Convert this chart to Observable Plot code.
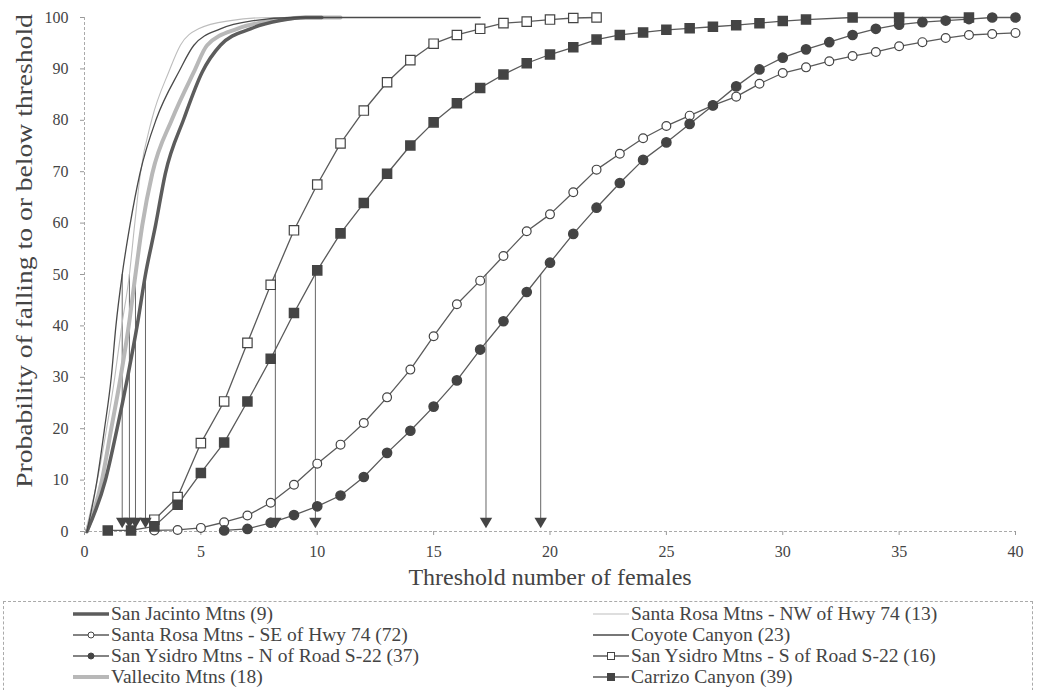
<!DOCTYPE html>
<html><head><meta charset="utf-8">
<script src="https://cdn.jsdelivr.net/npm/d3@7"></script>
<script src="https://cdn.jsdelivr.net/npm/@observablehq/plot@0.6"></script>
<style>
html,body{margin:0;padding:0;background:#fff;overflow:hidden;}
#wrap{position:relative;width:1041px;height:690px;font-family:"Liberation Serif","Times New Roman",serif;color:#444;}
#chart{position:absolute;left:0;top:0;}
#chart svg, #chart svg text{font-family:"Liberation Serif","Times New Roman",serif;}
#ylab{position:absolute;width:500px;height:30px;line-height:30px;text-align:center;font-size:23px;left:-225px;top:236px;transform:rotate(-90deg) scaleX(1.2);transform-origin:center;white-space:nowrap;}
#xlab{position:absolute;left:250px;width:600px;top:563px;text-align:center;font-size:24px;line-height:28px;white-space:nowrap;}
#legend{position:absolute;left:3px;top:601px;width:1030px;height:100px;border:1px dashed #aaa;box-sizing:border-box;}
.item{position:absolute;height:21px;line-height:20px;font-size:19.5px;white-space:nowrap;display:flex;align-items:center;}
.item svg{margin-right:2px;}
.item span{display:inline-block;height:20px;line-height:20px;}
</style></head><body>
<div id="wrap"><div id="chart"></div><div id="ylab"></div><div id="xlab"></div><div id="legend"></div></div>
<script>
// ---- data ----
const xTicks = [0, 5, 10, 15, 20, 25, 30, 35, 40];
const yTicks = [0, 10, 20, 30, 40, 50, 60, 70, 80, 90, 100];
const xTitle = "Threshold number of females";
const yTitle = "Probability of falling to or below threshold";

const seriesNames = [
  "San Jacinto Mtns (9)",
  "Santa Rosa Mtns - NW of Hwy 74 (13)",
  "Santa Rosa Mtns - SE of Hwy 74 (72)",
  "Coyote Canyon (23)",
  "San Ysidro Mtns - N of Road S-22 (37)",
  "San Ysidro Mtns - S of Road S-22 (16)",
  "Vallecito Mtns (18)",
  "Carrizo Canyon (39)"
];

// steep curves (no markers)
const steepY = [0, 10, 20, 30, 40, 50, 59.5, 69.6, 80.3, 89.4, 94.6, 97.8, 99.4, 100, 100];
const sanJacintoX = [0.1, 0.9, 1.4, 1.85, 2.26, 2.62, 3.05, 3.47, 4.27, 5.06, 5.84, 7.13, 8.4, 9.5, 10.2];
const santaRosaNWX = [0.05, 0.55, 0.95, 1.3, 1.6, 1.93, 2.15, 2.4, 2.9, 3.62, 4.12, 4.9, 6.27, 8, 12];
const coyoteX = [0.1, 0.54, 0.86, 1.15, 1.35, 1.62, 1.95, 2.38, 3.09, 4.05, 4.7, 5.84, 7.27, 9, 17];
const vallecitoX = [0.1, 0.75, 1.15, 1.55, 1.9, 2.19, 2.48, 2.91, 3.77, 4.7, 5.27, 6.56, 8.1, 9.5, 11];

// marker series
const santaRosaSEX = [3,4,5,6,7,8,9,10,11,12,13,14,15,16,17,18,19,20,21,22,23,24,25,26,27,28,29,30,31,32,33,34,35,36,37,38,39,40];
const santaRosaSEY = [0.2,0.3,0.7,1.8,3.1,5.6,9.1,13.2,16.9,21.1,26.1,31.5,38,44.2,48.8,53.6,58.4,61.7,66.0,70.4,73.5,76.5,78.9,80.9,82.9,84.6,87.1,89.2,90.3,91.5,92.5,93.3,94.4,95.2,96.0,96.6,96.8,97.0];

const ysidroNX = [6,7,8,9,10,11,12,13,14,15,16,17,18,19,20,21,22,23,24,25,26,27,28,29,30,31,32,33,34,35,36,37,38,39,40];
const ysidroNY = [0.2,0.5,1.7,3.2,4.9,7.0,10.6,15.3,19.6,24.3,29.4,35.4,40.9,46.6,52.3,57.9,63.0,67.8,72.3,75.7,79.3,82.9,86.6,89.9,92.2,93.8,95.2,96.6,97.8,98.6,99.1,99.4,99.7,100,100];

const ysidroSX = [3,4,5,6,7,8,9,10,11,12,13,14,15,16,17,18,19,20,21,22];
const ysidroSY = [2.3,6.7,17.2,25.3,36.7,48,58.6,67.5,75.5,81.9,87.4,91.7,94.9,96.6,97.8,98.9,99.2,99.6,99.9,100];

const carrizoX = [1,2,3,4,5,6,7,8,9,10,11,12,13,14,15,16,17,18,19,20,21,22,23,24,25,26,27,28,29,30,31,33,35,38];
const carrizoY = [0.2,0.2,1.0,5.2,11.4,17.3,25.3,33.6,42.5,50.8,58,63.9,69.6,75.1,79.6,83.3,86.3,88.9,91.1,92.8,94.2,95.7,96.6,97.1,97.6,97.9,98.2,98.5,98.9,99.3,99.6,100,100,100];

// thresholds where each curve crosses 50%
const arrowX = [1.62, 1.93, 2.19, 2.62, 8.2, 9.92, 17.25, 19.6];
const arrowTop = 50;
const arrowTip = 2;

// ---- build tables ----
const pts = (xs, ys) => xs.map((x, i) => ({x, y: ys[i]}));
const jac = pts(sanJacintoX, steepY);
const srnw = pts(santaRosaNWX, steepY);
const coy = pts(coyoteX, steepY);
const val = pts(vallecitoX, steepY);
const srse = pts(santaRosaSEX, santaRosaSEY);
const ysn = pts(ysidroNX, ysidroNY);
const yss = pts(ysidroSX, ysidroSY);
const car = pts(carrizoX, carrizoY);
const arrows = arrowX.map(x => ({x}));

const lineC = "#5a5a5a";
const plot = Plot.plot({
  width: 1041, height: 598,
  marginLeft: 84, marginRight: 26, marginTop: 17, marginBottom: 67,
  style: {fontFamily: "'Liberation Serif','Times New Roman',serif", fontSize: "16px", color: "#444", background: "white", overflow: "visible"},
  x: {domain: [0, 40]},
  y: {domain: [0, 100]},
  marks: [
    Plot.axisX({ticks: xTicks, tickSize: 4, tickPadding: 10, label: null, stroke: "#999"}),
    Plot.axisY({ticks: yTicks, tickSize: 4, tickPadding: 12, label: null, stroke: "#999"}),
    Plot.ruleX([0], {stroke: "#aaa", strokeDasharray: "3,2"}),
    Plot.ruleY([0], {stroke: "#aaa", strokeDasharray: "3,2"}),
    Plot.ruleX(arrows, {x: "x", y1: arrowTop, y2: arrowTip, stroke: "#666", strokeWidth: 1}),
    Plot.line(srse, {x: "x", y: "y", stroke: lineC, strokeWidth: 1.3}),
    Plot.line(ysn, {x: "x", y: "y", stroke: lineC, strokeWidth: 1.3}),
    Plot.line(yss, {x: "x", y: "y", stroke: lineC, strokeWidth: 1.3}),
    Plot.line(car, {x: "x", y: "y", stroke: lineC, strokeWidth: 1.3}),
    Plot.line(val, {x: "x", y: "y", stroke: "#b8b8b8", strokeWidth: 4, curve: "monotone-x"}),
    Plot.line(jac, {x: "x", y: "y", stroke: "#5c5c5c", strokeWidth: 3.5, curve: "monotone-x"}),
    Plot.line(srnw, {x: "x", y: "y", stroke: "#bdbdbd", strokeWidth: 1.1, curve: "monotone-x"}),
    Plot.line(coy, {x: "x", y: "y", stroke: "#4a4a4a", strokeWidth: 1.3, curve: "monotone-x"}),
    Plot.dot(srse, {x: "x", y: "y", r: 4.4, fill: "white", stroke: "#444", strokeWidth: 1.2}),
    Plot.dot(ysn, {x: "x", y: "y", r: 4.6, fill: "#444", stroke: "#444"}),
    Plot.dot(yss, {x: "x", y: "y", symbol: "square", r: 5.3, fill: "white", stroke: "#444", strokeWidth: 1.2}),
    Plot.dot(car, {x: "x", y: "y", symbol: "square", r: 5.1, fill: "#444", stroke: "#444"}),
    Plot.dot(arrows, {x: "x", y: arrowTip, symbol: "triangle", rotate: 180, r: 4.6, fill: "#444", stroke: "none"})
  ]
});
document.getElementById("chart").appendChild(plot);
document.getElementById("ylab").textContent = yTitle;
document.getElementById("xlab").textContent = xTitle;

// ---- legend ----
const styles = {
  [seriesNames[0]]: {stroke: "#5c5c5c", w: 3.5},
  [seriesNames[1]]: {stroke: "#bdbdbd", w: 1.1},
  [seriesNames[2]]: {stroke: lineC, w: 1.3, m: "circle", fill: "white"},
  [seriesNames[3]]: {stroke: "#4a4a4a", w: 1.3},
  [seriesNames[4]]: {stroke: lineC, w: 1.3, m: "circle", fill: "#444"},
  [seriesNames[5]]: {stroke: lineC, w: 1.3, m: "square", fill: "white"},
  [seriesNames[6]]: {stroke: "#b8b8b8", w: 4},
  [seriesNames[7]]: {stroke: lineC, w: 1.3, m: "square", fill: "#444"}
};
const legend = document.getElementById("legend");
seriesNames.forEach((name, i) => {
  const col = i % 2, row = Math.floor(i / 2);
  const s = styles[name];
  const div = document.createElement("div");
  div.className = "item";
  div.style.left = (col === 0 ? 69 : 589) + "px";
  div.style.top = (1 + row * 21) + "px";
  let mk = "";
  if (s.m === "circle") mk = `<circle cx="18" cy="7" r="3" fill="${s.fill}" stroke="#444" stroke-width="1"/>`;
  if (s.m === "square") mk = `<rect x="14.5" y="3.5" width="7" height="7" fill="${s.fill}" stroke="#444" stroke-width="1"/>`;
  div.innerHTML = `<svg width="36" height="14"><line x1="0" y1="7" x2="36" y2="7" stroke="${s.stroke}" stroke-width="${s.w}"/>${mk}</svg><span>${name}</span>`;
  legend.appendChild(div);
});
</script>
</body></html>
